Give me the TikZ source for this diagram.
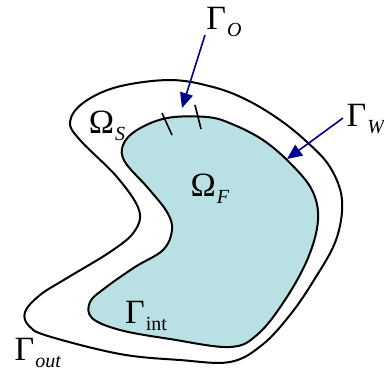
\documentclass[tikz,border=0pt]{standalone}
\usepackage{fontspec}
\setmainfont{Liberation Serif}
\usetikzlibrary{arrows.meta}
\definecolor{fluid}{RGB}{185,224,227}
\definecolor{navyblue}{RGB}{0,0,140}
\newcommand{\bnd}[2]{#1\kern0.5pt\raisebox{-3.5pt}{\fontsize{10}{10}\selectfont #2}}

\begin{document}
\begin{tikzpicture}[x=0.5pt, y=-0.5pt, >={Triangle[length=7.5pt,width=6.5pt]},
  lbl/.style={font=\fontsize{17}{17}\selectfont, inner sep=0pt}]
  \useasboundingbox (0,0) rectangle (384,372);

  % Outer boundary
  \draw[line width=1pt] plot[smooth cycle, tension=0.6] coordinates {
    (170,80) (213,87) (247,100) (280,120) (307,142) (330,167) (342,200)
    (336,240) (314,280) (290,315) (262,345) (230,362) (180,360) (120,354)
    (48,336) (29,326) (25,312) (40,295) (67,278) (110,252) (134,232) (139,210)
    (117,177) (80,140) (70,122) (83,103) (117,87)};

  % Fluid domain
  \draw[line width=1pt, fill=fluid] plot[smooth cycle, tension=0.6] coordinates {
    (167,118) (207,117) (232,124) (263,140) (290,163) (312,190) (318,220)
    (308,258) (285,300) (258,334) (230,347) (170,339) (120,330) (92,318)
    (90,302) (105,288) (135,267) (163,250) (172,230) (167,212) (148,188)
    (125,162) (123,145) (137,130)};

  % Marks on the interface
  \draw[line width=0.8pt] (162,113) -- (172,135);
  \draw[line width=0.8pt] (195,105) -- (201,129);

  % Labels
  \node[lbl] (gO) at (224,22) {\bnd{Γ}{\textit{O}}};
  \node[lbl] (gW) at (366,119) {\bnd{Γ}{\textit{W}}};
  \node[lbl] (oS) at (107,126) {\bnd{Ω}{\textit{S}}};
  \node[lbl] (oF) at (210,189) {\bnd{Ω}{\textit{F}}};
  \node[lbl] (gI) at (146,316) {\bnd{Γ}{int}};
  \node[lbl] (gOut) at (38,353) {\bnd{Γ}{\textit{out}}};

  % Arrows
  \coordinate (oStart) at (205,35);
  \coordinate (oTip) at (182,108);
  \coordinate (wStart) at (343,118);
  \coordinate (wTip) at (287,159);
  \draw[->, navyblue, line width=0.8pt] (oStart) -- (oTip);
  \draw[->, navyblue, line width=0.8pt] (wStart) -- (wTip);
\end{tikzpicture}
\end{document}
